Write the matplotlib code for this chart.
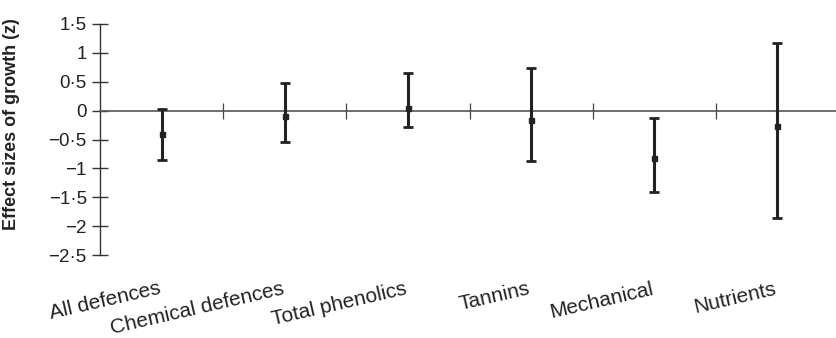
import matplotlib
matplotlib.use("Agg")
import matplotlib.pyplot as plt
from matplotlib.ticker import FuncFormatter
import numpy as np

plt.rcParams['font.family'] = ['Liberation Sans', 'DejaVu Sans']

categories = ["All defences", "Chemical defences", "Total phenolics",
              "Tannins", "Mechanical", "Nutrients"]
effect = [-0.40, -0.09, 0.04, -0.155, -0.815, -0.26]
ci_low = [-0.85, -0.55, -0.28, -0.87, -1.41, -1.86]
ci_high = [0.03, 0.48, 0.655, 0.73, -0.13, 1.17]

effect = np.array(effect)
yerr = [effect - np.array(ci_low), np.array(ci_high) - effect]
xpos = np.arange(len(categories)) + 0.5

fig = plt.figure(figsize=(8.36, 3.38), dpi=100)
ax = fig.add_axes([100 / 836, 83 / 338, 739 / 836, 231 / 338])

ax.errorbar(xpos, effect, yerr=yerr, fmt='s', color='#222222', ms=3.6,
            elinewidth=2.2, capsize=3.6, capthick=2.0, zorder=3)

ax.set_xlim(0, len(categories))
ax.set_ylim(-2.5, 1.5)
ax.set_yticks(np.arange(-2.5, 1.51, 0.5))


def fmt(v, pos):
    s = ('%g' % round(v, 2)).replace('.', '\u00b7').replace('-', '\u2212')
    return s


ax.yaxis.set_major_formatter(FuncFormatter(fmt))
ax.set_xticks(np.arange(1, len(categories)))
ax.set_xticklabels([])

for side in ['top', 'right']:
    ax.spines[side].set_visible(False)
ax.spines['bottom'].set_position(('data', 0))
ax.spines['bottom'].set_color('#555555')
ax.spines['left'].set_color('#333333')
ax.spines['bottom'].set_linewidth(1.2)
ax.spines['left'].set_linewidth(1.0)

ax.tick_params(axis='y', direction='inout', length=11, width=1.0,
               color='#333333', labelsize=13.5, pad=4, labelcolor='#222222')
ax.tick_params(axis='x', direction='inout', length=12, width=0.9,
               color='#444444')

for x, name in zip(xpos, categories):
    ax.text(x, -3.17, name, rotation=13, rotation_mode='anchor',
            ha='right', va='baseline', fontsize=15, color='#222222',
            transform=ax.transData, clip_on=False)

fig.text(12 / 836, 1 - 124 / 338, "Effect sizes of growth (z)", rotation=90,
         ha='center', va='center', fontsize=13, fontweight='bold',
         color='#222222')

fig.savefig("out.png", dpi=100)
